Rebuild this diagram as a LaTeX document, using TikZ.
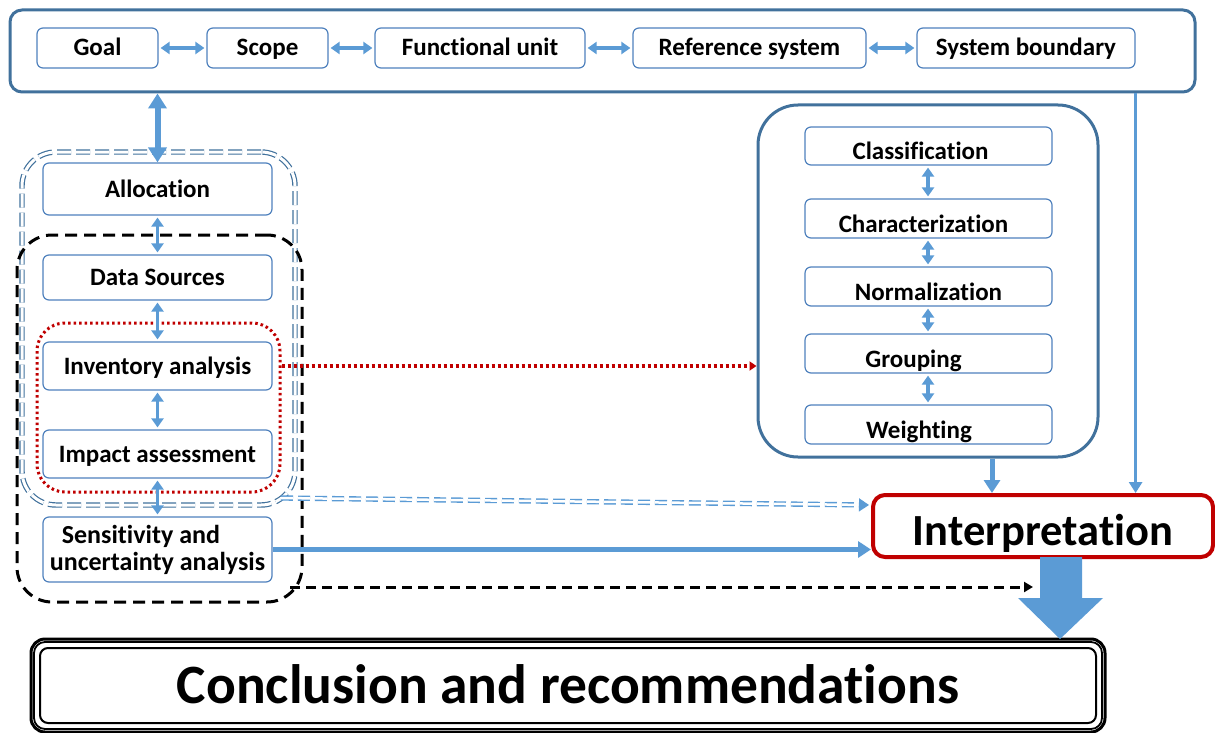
\documentclass[tikz,border=0pt]{standalone}
\usepackage{fontspec}
\setmainfont{Carlito}[Ligatures=NoCommon]
\usetikzlibrary{arrows.meta,calc}
\definecolor{dkblue}{HTML}{41719C}
\definecolor{lblue}{HTML}{5B9BD5}
\definecolor{bxblue}{HTML}{4F81BD}
\definecolor{dred}{HTML}{C00000}
\begin{document}
\begin{tikzpicture}[x=1pt,y=-1pt,
  basebox/.style={draw=bxblue, line width=1.2pt, rounded corners=6pt, fill=white, inner sep=0pt,
    font=\fontsize{25}{29}\selectfont\bfseries},
  box/.style={basebox, text height=20pt, text depth=4pt},
  rbx/.style={basebox, text height=30pt, text depth=2pt},
  frame/.style={draw=dkblue, line width=3pt, inner sep=0pt},
  darr/.style={draw=lblue, line width=3.5pt, {Triangle[length=9pt,width=12pt]}-{Triangle[length=9pt,width=12pt]}, shorten <=2pt, shorten >=2pt},
  bigdarr/.style={draw=lblue, line width=6pt, {Triangle[length=15pt,width=18pt]}-{Triangle[length=15pt,width=18pt]}},
  sarr/.style={draw=lblue, line width=3.5pt, -{Triangle[length=11pt,width=13pt]}},
  marr/.style={draw=lblue, line width=5pt, -{Triangle[length=13pt,width=16pt]}},
  dblarr/.style={draw=lblue, double=white, double distance=2.5pt, line width=1.4pt, dash pattern=on 12pt off 5pt, -{Triangle[length=10pt,width=13pt]}},
  blkarr/.style={draw=black, line width=3pt, dash pattern=on 10pt off 6pt, -{Triangle[length=9pt,width=10pt]}},
  redarr/.style={draw=dred, line width=3.2pt, dash pattern=on 3pt off 3pt, -{Triangle[length=7pt,width=9pt]}}
]
\useasboundingbox (0,0) rectangle (1215,733);

% frames
\node[draw=dkblue, double=white, double distance=3pt, line width=1.2pt, dash pattern=on 14pt off 5pt,
  rounded corners=34pt, minimum width=273pt, minimum height=353pt, inner sep=0pt] (dblf) at (158.5,328.5) {};
\node[draw=black, line width=3pt, dash pattern=on 12pt off 7pt, rounded corners=35pt,
  minimum width=285pt, minimum height=367pt, inner sep=0pt] (blkf) at (159.5,418.5) {};
\node[draw=dred, line width=3pt, dash pattern=on 2.5pt off 3pt, rounded corners=28pt,
  minimum width=243pt, minimum height=169pt, inner sep=0pt] (redf) at (158.5,407.5) {};

% top bar
\node[frame, rounded corners=12pt, minimum width=1185pt, minimum height=82pt] (top) at (602.5,51) {};
\node[box, minimum width=121pt, minimum height=40pt] (goal) at (97.5,48) {Goal};
\node[box, minimum width=121pt, minimum height=40pt] (scope) at (267.5,48) {Scope};
\node[box, minimum width=210pt, minimum height=40pt] (func) at (480,48) {Functional unit};
\node[box, minimum width=233pt, minimum height=40pt] (refsys) at (749.5,48) {Reference system};
\node[box, minimum width=218pt, minimum height=40pt] (sysb) at (1026,48) {System boundary};
\draw[darr] (goal) -- (scope);
\draw[darr] (scope) -- (func);
\draw[darr] (func) -- (refsys);
\draw[darr] (refsys) -- (sysb);

% left column
\node[box, minimum width=229pt, minimum height=52pt] (alloc) at (157.5,189) {Allocation};
\node[box, minimum width=229pt, minimum height=45pt] (data) at (157.5,277.5) {Data Sources};
\node[box, minimum width=229pt, minimum height=48pt] (inv) at (157.5,366) {Inventory analysis};
\node[box, minimum width=229pt, minimum height=48pt] (imp) at (157.5,454) {Impact assessment};
\node[basebox, minimum width=229pt, minimum height=65pt, align=left, font=\fontsize{26}{29}\selectfont\bfseries] (sens) at (157.5,549.5) {\hspace*{12pt}Sensitivity and\\[-2pt]uncertainty analysis};
\draw[bigdarr] (top.south -| alloc.north) -- (alloc.north);
\draw[darr] (alloc) -- (data);
\draw[darr] (data) -- (inv);
\draw[darr] (inv) -- (imp);
\draw[darr] (imp) -- (sens);

% right column
\node[frame, rounded corners=40pt, minimum width=340pt, minimum height=352pt] (rbox) at (928,281) {};
\node[rbx, minimum width=247pt, minimum height=38pt] (class) at (928.5,146) {Classification\kern16pt};
\node[rbx, minimum width=247pt, minimum height=39pt] (charac) at (928.5,218.5) {Characterization\kern10pt};
\node[rbx, minimum width=247pt, minimum height=39pt] (norm) at (928.5,286.5) {Normalization};
\node[rbx, minimum width=247pt, minimum height=39pt] (group) at (928.5,353.5) {Grouping\kern30pt};
\node[rbx, minimum width=247pt, minimum height=39pt] (weight) at (928.5,424.5) {Weighting\kern19pt};
\draw[darr] (class.south -| rbox.center) -- (charac.north -| rbox.center);
\draw[darr] (charac.south -| rbox.center) -- (norm.north -| rbox.center);
\draw[darr] (norm.south -| rbox.center) -- (group.north -| rbox.center);
\draw[darr] (group.south -| rbox.center) -- (weight.north -| rbox.center);

% interpretation
\node[draw=dred, line width=4pt, rounded corners=12pt, minimum width=340pt, minimum height=62pt, inner sep=0pt,
  font=\fontsize{44.5}{48}\selectfont\bfseries, text height=40pt, text depth=2pt] (interp) at (1043,526) {Interpretation};

\coordinate (rb1) at ($(rbox.south)+(64,0)$);
\draw[marr] (rb1) -- (rb1 |- interp.north);
\draw[sarr] (sysb.east |- top.south) -- (sysb.east |- interp.north);
\draw[marr] (sens.east) -- (sens.east -| interp.west);
\coordinate (dd1) at (281,498);
\coordinate (dd2) at ($(interp.west)+(-2,-21)$);
\draw[dblarr] (dd1) -- (dd2);
\draw[redarr] (redf.east |- inv) -- (rbox.west |- inv);
\coordinate (bk1) at (290,587);
\coordinate (bk2) at (1033,587);
\draw[blkarr] (bk1) -- (bk2);

% conclusion
\node[draw=black, line width=3pt, rounded corners=14pt, minimum width=1074pt, minimum height=93pt, inner sep=0pt,
  font=\fontsize{55.5}{60}\selectfont\bfseries, text height=40pt, text depth=5pt] (concl) at (568,685.5) {Conclusion and recommendations};
\draw[line width=1.8pt, rounded corners=11pt] ($(concl.north west)+(4.5,4.5)$) rectangle ($(concl.south east)+(-4.5,-4.5)$);
\draw[line width=2pt, rounded corners=8pt] ($(concl.north west)+(10.5,10.5)$) rectangle ($(concl.south east)+(-10.5,-10.5)$);

% block arrow
\fill[lblue] (1040,557) -- (1082,557) -- (1082,598) -- (1103,598) -- (1060,639) -- (1018,598) -- (1040,598) -- cycle;
\end{tikzpicture}
\end{document}
